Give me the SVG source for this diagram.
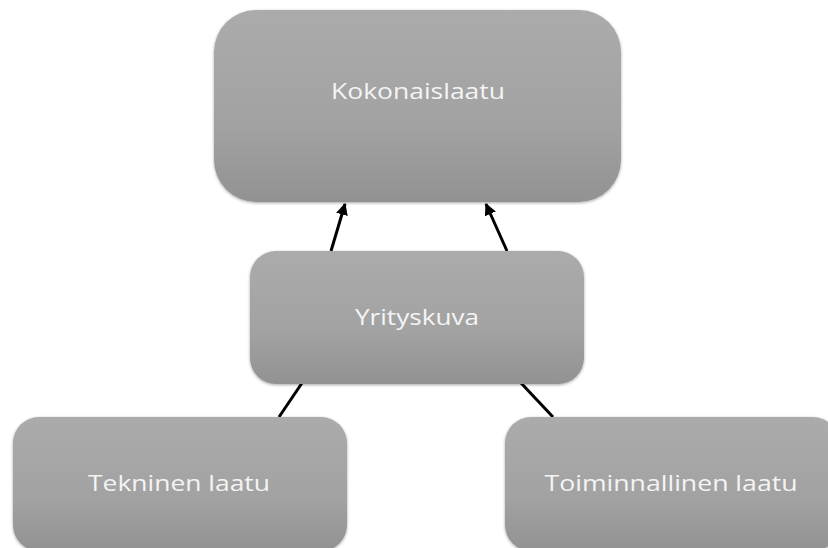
<svg xmlns="http://www.w3.org/2000/svg" width="828" height="548" viewBox="0 0 828 548">
<style>
.box{fill:url(#g);filter:url(#sh)}
.lbl{font-family:"Open Sans","Liberation Sans",sans-serif;font-size:22px;fill:#f4f4f4;text-anchor:middle}
.c{stroke:#000;stroke-width:3;fill:none}
</style>
<defs>
<linearGradient id="g" x1="0" y1="0" x2="0" y2="1">
<stop offset="0" stop-color="#ababab"/>
<stop offset="0.6" stop-color="#a2a2a2"/>
<stop offset="1" stop-color="#929292"/>
</linearGradient>
<filter id="sh" x="-5%" y="-5%" width="110%" height="110%">
<feGaussianBlur in="SourceAlpha" stdDeviation="1.5"/>
<feOffset dy="1"/>
<feComponentTransfer><feFuncA type="linear" slope="0.35"/></feComponentTransfer>
<feMerge><feMergeNode/><feMergeNode in="SourceGraphic"/></feMerge>
</filter>
<marker id="ah" viewBox="0 0 10 10" refX="9" refY="5" markerWidth="4" markerHeight="4" orient="auto" markerUnits="strokeWidth">
<path d="M0,0 L10,5 L0,10 z" fill="#000"/>
</marker>
</defs>
<g id="connectors">
<line class="c" x1="331" y1="251" x2="345" y2="204" marker-end="url(#ah)"/>
<line class="c" x1="507" y1="251" x2="486" y2="204" marker-end="url(#ah)"/>
<line class="c" x1="302" y1="383" x2="279" y2="417"/>
<line class="c" x1="521" y1="383" x2="553" y2="417"/>
</g>
<g id="kokonaislaatu">
<rect class="box" x="214" y="10" width="407" height="192" rx="42"/>
<text class="lbl" x="418" y="99" textLength="174" lengthAdjust="spacingAndGlyphs">Kokonaislaatu</text>
</g>
<g id="yrityskuva">
<rect class="box" x="250" y="251" width="334" height="133" rx="26"/>
<text class="lbl" x="417" y="325" textLength="124" lengthAdjust="spacingAndGlyphs">Yrityskuva</text>
</g>
<g id="tekninen">
<rect class="box" x="13" y="417" width="334" height="134" rx="26"/>
<text class="lbl" x="179" y="491" textLength="182" lengthAdjust="spacingAndGlyphs">Tekninen laatu</text>
</g>
<g id="toiminnallinen">
<rect class="box" x="505" y="417" width="334" height="134" rx="26"/>
<text class="lbl" x="671" y="491" textLength="253" lengthAdjust="spacingAndGlyphs">Toiminnallinen laatu</text>
</g>
</svg>
